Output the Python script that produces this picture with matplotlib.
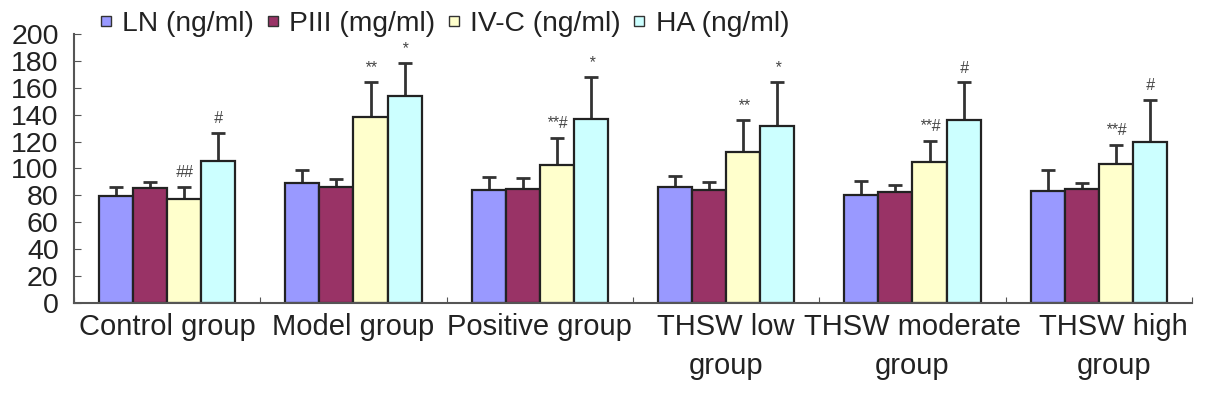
import numpy as np
import matplotlib
import matplotlib.pyplot as plt
import matplotlib.transforms as mtransforms
from matplotlib.lines import Line2D
matplotlib.use('agg')

plt.rcParams['font.family'] = ['Liberation Sans', 'DejaVu Sans']

groups = ['Control group', 'Model group', 'Positive group',
          'THSW low\ngroup', 'THSW moderate\ngroup', 'THSW high\ngroup']
series = ['LN (ng/ml)', 'PIII (mg/ml)', 'IV-C (ng/ml)', 'HA (ng/ml)']
colors = ['#9999FF', '#993366', '#FFFFCC', '#CCFFFF']

ln_mean = [79.5, 89, 84, 86.5, 80, 83]
ln_err = [6.5, 10, 10, 8, 10.5, 16]
piii_mean = [85.5, 86.5, 85, 84, 82.5, 84.5]
piii_err = [4.5, 6, 8, 6, 5, 4.5]
ivc_mean = [77.5, 138.5, 102.5, 112, 105, 103.5]
ivc_err = [9, 26, 20, 24, 15.5, 14]
ha_mean = [105.5, 154, 137, 131.5, 136, 119.5]
ha_err = [21, 24.5, 31, 33, 28, 31.5]

means = [ln_mean, piii_mean, ivc_mean, ha_mean]
errs = [ln_err, piii_err, ivc_err, ha_err]

# significance marks: (group index, series index, text)
marks = [(0, 2, '##'), (0, 3, '#'),
         (1, 2, '**'), (1, 3, '*'),
         (2, 2, '**#'), (2, 3, '*'),
         (3, 2, '**'), (3, 3, '*'),
         (4, 2, '**#'), (4, 3, '#'),
         (5, 2, '**#'), (5, 3, '#')]

fig = plt.figure(figsize=(12.05, 3.94), dpi=100)
ax = fig.add_axes([0.0614, 0.231, 0.9278, 0.683])

x = np.arange(len(groups)) + 0.5
width = 0.183
for i in range(4):
    pos = x + (i - 1.5) * width
    ax.bar(pos, means[i], width, color=colors[i], edgecolor='#222222',
           linewidth=1.6, zorder=2)
    ax.errorbar(pos, means[i], yerr=[np.zeros(6), errs[i]], fmt='none',
                ecolor='#333333', elinewidth=2, capsize=5, capthick=2,
                zorder=1)

for g, s, txt in marks:
    xp = x[g] + (s - 1.5) * width
    ax.text(xp, means[s][g] + errs[s][g] + 5, txt, ha='center', va='bottom',
            fontsize=11.5, color='#444444', style='italic')

ax.set_xlim(0, 6)
ax.set_ylim(0, 200)
ax.set_yticks(range(0, 201, 20))
ax.tick_params(axis='y', direction='in', length=5, labelsize=20.5, pad=11,
               color='#555555', labelcolor='#222222')
ax.set_xticks(range(7))
ax.set_xticklabels([])
ax.tick_params(axis='x', direction='in', length=4, color='#555555')
ax.set_xticks(x, minor=True)
ax.set_xticklabels(groups, minor=True, fontsize=21, color='#222222',
                   linespacing=1.5)
ax.tick_params(axis='x', which='minor', length=0, pad=7)

# last label sits a little to the right in the original
last = ax.get_xticklabels(minor=True)[-1]
last.set_transform(last.get_transform() +
                   mtransforms.ScaledTranslation(0.15, 0, fig.dpi_scale_trans))

for sp in ['top', 'right']:
    ax.spines[sp].set_visible(False)
for sp in ['left', 'bottom']:
    ax.spines[sp].set_color('#555555')
    ax.spines[sp].set_linewidth(1.5)

handles = [Line2D([], [], marker='s', linestyle='none', markersize=7,
                  markerfacecolor=c, markeredgecolor='#333333')
           for c in colors]
fig.legend(handles, series, loc='center left', bbox_to_anchor=(0.082, 0.939),
           ncol=4, frameon=False, fontsize=20.3, handlelength=0.5,
           handletextpad=0.34, columnspacing=0.4, borderpad=0,
           borderaxespad=0, labelcolor='#222222')

plt.savefig('out.png', dpi=100)
plt.close()
